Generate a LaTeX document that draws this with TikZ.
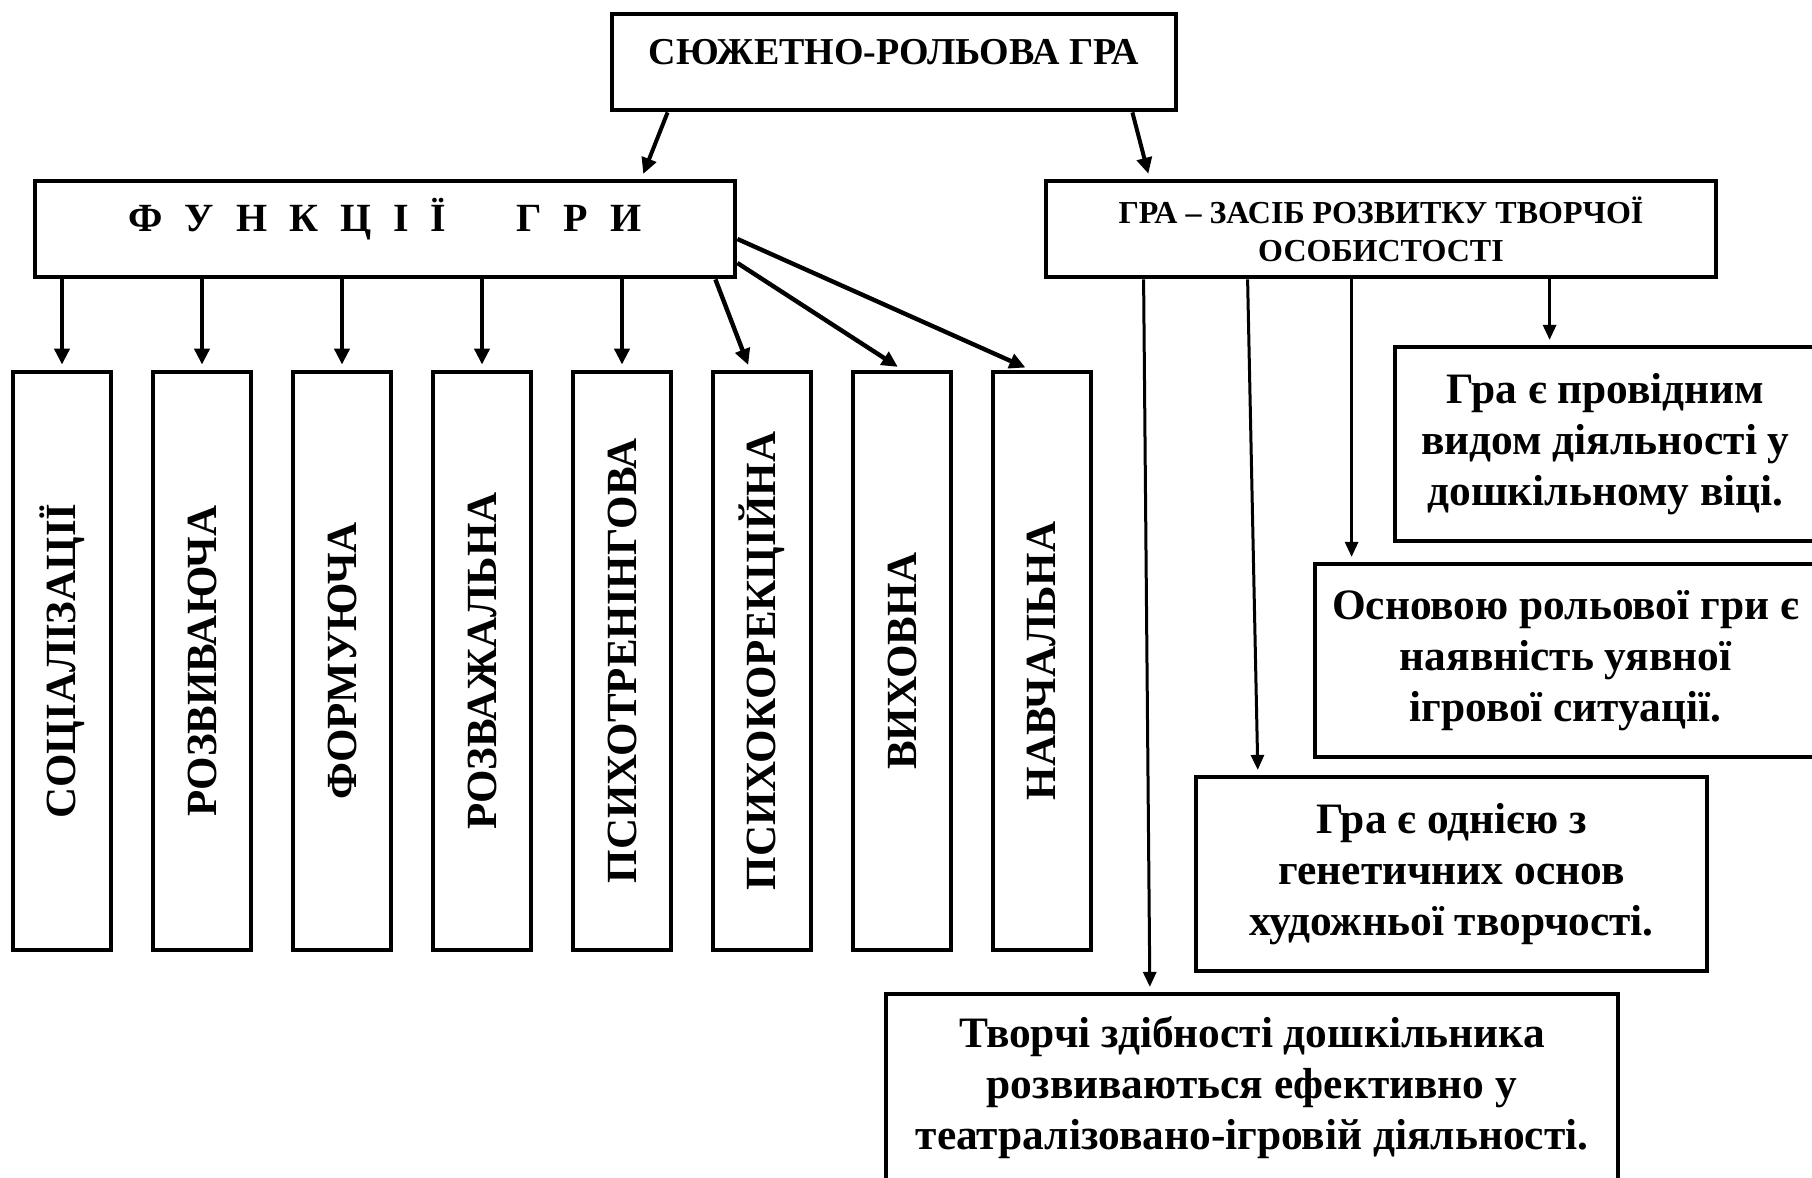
\documentclass[tikz,border=0pt]{standalone}
\usepackage{fontspec}
\setmainfont{Liberation Serif}
\usepackage{graphicx}
\usetikzlibrary{positioning,arrows.meta}
\newcommand{\lgap}{\hspace{11pt}}

\begin{document}
\begin{tikzpicture}[x=0.5pt,y=-0.5pt,
   >={Triangle[length=8pt,width=7.5pt]},
   shorten >=2.5pt,node distance=70pt,on grid,
   box/.style={draw,line width=2.4pt,inner sep=4pt,align=center,font=\bfseries},
   head/.style={box,minimum height=48pt,text height=21pt,text depth=19pt},
   func/.style={box,minimum width=49pt,minimum height=289pt,
                font=\bfseries\fontsize{21.5pt}{24pt}\selectfont},
   note/.style={box,line width=2.1pt,font=\bfseries\fontsize{21.7pt}{25.5pt}\selectfont},
   link/.style={->,line width=2.2pt},
   thin link/.style={->,line width=1.5pt,>={Triangle[length=7.5pt,width=6.5pt]}}]
   \useasboundingbox (0,0) rectangle (1812,1178);

   % top row
   \node[head,minimum width=282pt,font=\bfseries\fontsize{19pt}{22pt}\selectfont] (top) at (894,62) {СЮЖЕТНО-РОЛЬОВА ГРА};
   \node[head,minimum width=350pt,font=\bfseries\fontsize{20pt}{23pt}\selectfont] (fun) at (385,229)
      {Ф\lgap У\lgap Н\lgap К\lgap Ц\lgap І\lgap Ї\hspace{35pt}Г\lgap Р\lgap И};
   \node[box,minimum width=335pt,minimum height=48pt,font=\bfseries\fontsize{16pt}{19pt}\selectfont] (dev) at (1381,229)
      {ГРА – ЗАСІБ РОЗВИТКУ ТВОРЧОЇ\\ОСОБИСТОСТІ};

   % functions
   \node[func] (soc) at (62,661) {\rotatebox{90}{СОЦІАЛІЗАЦІЇ}};
   \node[func] (roz) [right=of soc] {\rotatebox{90}{РОЗВИВАЮЧА}};
   \node[func] (form) [right=of roz] {\rotatebox{90}{ФОРМУЮЧА}};
   \node[func] (rozv) [right=of form] {\rotatebox{90}{РОЗВАЖАЛЬНА}};
   \node[func] (ptr) [right=of rozv] {\rotatebox{90}{ПСИХОТРЕНІНГОВА}};
   \node[func] (pkor) [right=of ptr] {\rotatebox{90}{ПСИХОКОРЕКЦІЙНА}};
   \node[func] (vyh) [right=of pkor] {\rotatebox{90}{ВИХОВНА}};
   \node[func] (nav) [right=of vyh] {\rotatebox{90}{НАВЧАЛЬНА}};

   % right column
   \node[note,minimum width=210.5pt,minimum height=97pt] (lead) at (1605.5,444)
      {Гра є провідним\\видом діяльності у\\дошкільному віці.};
   \node[note,minimum width=250.5pt,minimum height=96.5pt] (base) at (1565.5,660.5)
      {Основою рольової гри є\\наявність уявної\\ігрової ситуації.};
   \node[note,minimum width=255.5pt,minimum height=97pt] (gen) at (1451.5,874)
      {Гра є однією з\\генетичних основ\\художньої творчості.};
   \node[note,minimum width=366pt,minimum height=94pt] (abil) at (1252,1088)
      {Творчі здібності дошкільника\\розвиваються ефективно у\\театралізовано-ігровій діяльності.};

   \coordinate (d1) at ([xshift=253pt]dev.south west);
   \coordinate (d2) at ([xshift=154pt]dev.south west);
   \coordinate (d3) at ([xshift=102pt]dev.south west);
   \coordinate (d4) at ([xshift=50pt]dev.south west);

   \draw[link,line width=2pt] ([xshift=29pt]top.south west) -- ([xshift=-48pt]fun.north east);
   \draw[link,line width=2pt] ([xshift=-23pt]top.south east) -- ([xshift=53pt]dev.north west);

   \draw[link] (fun.south -| soc.north) -- (soc.north);
   \draw[link] (fun.south -| roz.north) -- (roz.north);
   \draw[link] (fun.south -| form.north) -- (form.north);
   \draw[link] (fun.south -| rozv.north) -- (rozv.north);
   \draw[link] (fun.south -| ptr.north) -- (ptr.north);
   \draw[link] ([xshift=-11pt]fun.south east) -- ([xshift=-6pt]pkor.north);
   \draw[link] ([yshift=-17pt]fun.east) -- (vyh.north);
   \draw[link] ([yshift=-5pt]fun.east) -- ([xshift=-6pt]nav.north);

   \draw[thin link] (d1) -- (d1 |- lead.north);
   \draw[thin link] (d2) -- (d2 |- base.north);
   \draw[thin link] (d3) -- ([xshift=32pt]gen.north west);
   \draw[thin link] (d4) -- ([xshift=133pt]abil.north west);
\end{tikzpicture}
\end{document}
